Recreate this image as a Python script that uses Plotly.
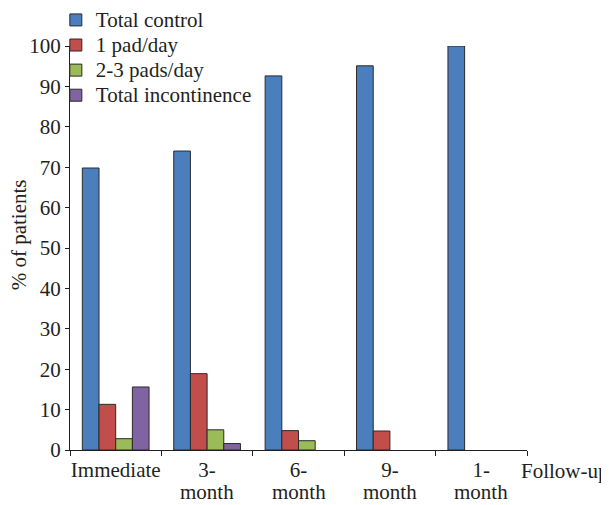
import plotly.graph_objects as go

categories = ["Immediate", "3-month", "6-month", "9-month", "1-month"]
tick_line1 = ["Immediate", "3-", "6-", "9-", "1-"]
tick_line2 = ["", "month", "month", "month", "month"]
total_control = [69.8, 74.0, 92.6, 95.1, 100.0]
one_pad = [11.3, 18.9, 4.8, 4.7, 0]
two_three_pads = [2.8, 5.0, 2.3, 0, 0]
total_incontinence = [15.6, 1.6, 0, 0, 0]
y_ticks = [0, 10, 20, 30, 40, 50, 60, 70, 80, 90, 100]

series = [
    ("Total control", total_control, "#4A7EBD"),
    ("1 pad/day", one_pad, "#C24E4B"),
    ("2-3 pads/day", two_three_pads, "#9BBB59"),
    ("Total incontinence", total_incontinence, "#8064A2"),
]

FONT = "Liberation Serif"
TXT = "#231F20"
FS = 21

fig = go.Figure()
for name, vals, col in series:
    fig.add_trace(go.Bar(
        x=categories, y=[v if v else None for v in vals],
        name='<span style="font-size:%dpx">%s</span>' % (FS, name),
        marker=dict(color=col, line=dict(color="#2b2b2b", width=1)),
    ))

annotations = [
    dict(text="% of patients", textangle=-90, xref="paper", yref="y",
         x=-0.111, y=53.2, xanchor="center", yanchor="middle", showarrow=False,
         font=dict(family=FONT, size=FS, color=TXT)),
    dict(text="Follow-up", xref="paper", yref="paper",
         x=0.983, y=-0.052, xanchor="left", yanchor="middle", showarrow=False,
         font=dict(family=FONT, size=FS, color=TXT)),
]
for cat, line2 in zip(categories, tick_line2):
    if line2:
        annotations.append(dict(text=line2, xref="x", yref="paper", x=cat, y=-0.104,
                                xanchor="center", yanchor="middle", showarrow=False,
                                font=dict(family=FONT, size=FS, color=TXT)))

# the page body has an 8px margin, so the figure is sized/offset to compensate
fig.update_layout(
    width=601, height=497,
    margin=dict(l=62, r=82, t=38, b=55, autoexpand=False),
    paper_bgcolor="white", plot_bgcolor="white",
    barmode="group", bargap=0.27, bargroupgap=0,
    font=dict(family=FONT, size=FS, color=TXT),
    showlegend=True,
    legend=dict(
        x=-0.031, y=1.108, xanchor="left", yanchor="top",
        bgcolor="rgba(0,0,0,0)", font=dict(family=FONT, size=17, color=TXT),
        tracegroupgap=0, itemwidth=30,
    ),
    xaxis=dict(
        showline=True, linecolor="#231F20", linewidth=1,
        ticks="outside", ticklen=5, tickcolor="#231F20",
        tickson="boundaries", showgrid=False, tickangle=0,
        tickvals=categories, ticktext=tick_line1,
        tickfont=dict(family=FONT, size=FS, color=TXT),
        ticklabelstandoff=1,
    ),
    yaxis=dict(
        range=[0, 100], tickvals=y_ticks,
        showline=True, linecolor="#231F20", linewidth=1,
        ticks="outside", ticklen=4, tickcolor="#231F20",
        showgrid=False, zeroline=False,
        tickfont=dict(family=FONT, size=FS, color=TXT),
    ),
    annotations=annotations,
)

fig.write_html("out.html")
